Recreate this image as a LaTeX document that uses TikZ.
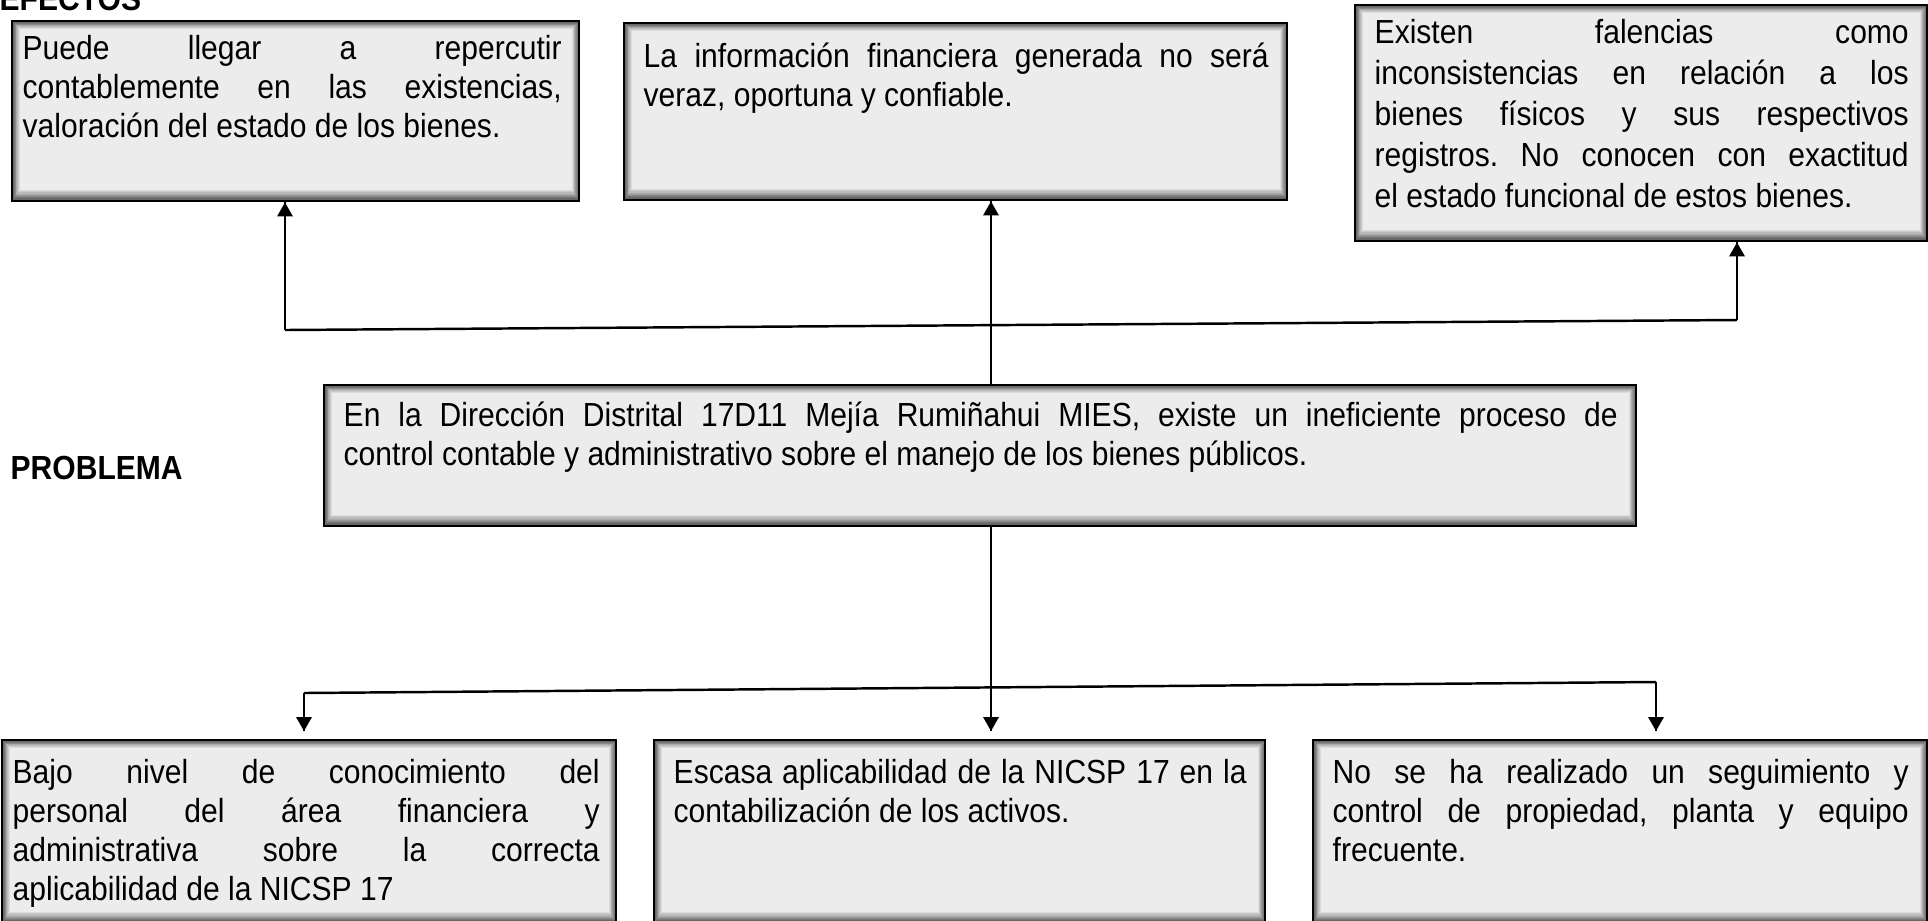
\documentclass[tikz,border=0pt]{standalone}
\usepackage{fontspec}
\setmainfont[FakeStretch=0.9]{Liberation Sans}
\usetikzlibrary{positioning,calc}
\definecolor{fondo}{HTML}{ECECEC}
\tolerance=10000
\hyphenpenalty=10000
\exhyphenpenalty=10000
\frenchspacing

\begin{document}
\begin{tikzpicture}[
  caja/.style={draw=black, line width=0.7pt, fill=fondo, anchor=north west, inner sep=0pt,
    path picture={
      \foreach \k in {1,...,10}{
        \pgfmathtruncatemacro{\tono}{30+7*\k}
        \draw[draw=fondo!\tono!black, line width=0.4pt]
          ([shift={(\k*0.008,\k*0.012)}]path picture bounding box.south west) rectangle
          ([shift={(-\k*0.008,-\k*0.008)}]path picture bounding box.north east);
      }
    }},
  texto/.style={anchor=north west, inner sep=0pt, align=justify,
    font=\fontsize{9.5pt}{11.1pt}\selectfont},
  textoalto/.style={texto, font=\fontsize{9.5pt}{11.7pt}\selectfont},
  titulo/.style={anchor=base west, inner sep=0pt, font=\fontsize{9.5pt}{11.1pt}\selectfont\bfseries},
  raya/.style={draw=black, line width=0.7pt},
  vara/.style={draw=black, line width=0.4pt}
]
\useasboundingbox (0,0) rectangle (19.28,-9.20);
\clip (0,0) rectangle (19.28,-9.20);

% titulos
\node[titulo] (efectos) at (-0.01,-0.10) {EFECTOS};
\node[titulo] (problema) at (0.10,-4.79) {PROBLEMA};

% efectos
\node[caja, minimum width=5.67cm, minimum height=1.80cm] (e1) at (0.11,-0.20) {};
\node[texto, text width=5.39cm, below right=0.07cm and 0.11cm of e1.north west] (te1)
  {\rule{0pt}{0.95em}Puede llegar a repercutir\linebreak contablemente en las existencias,\linebreak valoración del estado de los bienes.};
\node[caja, minimum width=6.63cm, minimum height=1.77cm] (e2) at (6.23,-0.22) {};
\node[texto, text width=6.25cm, below right=0.13cm and 0.20cm of e2.north west] (te2)
  {\rule{0pt}{0.95em}La información financiera generada no será\linebreak veraz, oportuna y confiable.};
\node[caja, minimum width=5.72cm, minimum height=2.36cm] (e3) at (13.54,-0.04) {};
\node[textoalto, text width=5.34cm, below right=0.07cm and 0.20cm of e3.north west] (te3)
  {\rule{0pt}{0.95em}Existen falencias como\linebreak inconsistencias en relación a los\linebreak bienes físicos y sus respectivos\linebreak registros. No conocen con exactitud\linebreak el estado funcional de estos bienes.};

% problema
\node[caja, minimum width=13.12cm, minimum height=1.41cm] (prob) at (3.23,-3.84) {};
\node[texto, text width=12.74cm, below right=0.10cm and 0.20cm of prob.north west] (tp)
  {\rule{0pt}{0.95em}En la Dirección Distrital 17D11 Mejía Rumiñahui MIES, existe un ineficiente proceso de\linebreak control contable y administrativo sobre el manejo de los bienes públicos.};

% causas
\node[caja, minimum width=6.14cm, minimum height=1.83cm] (c1) at (0.01,-7.39) {};
\node[texto, text width=5.87cm, below right=0.12cm and 0.11cm of c1.north west] (tc1)
  {\rule{0pt}{0.95em}Bajo nivel de conocimiento del\linebreak personal del área financiera y\linebreak administrativa sobre la correcta\linebreak aplicabilidad de la NICSP 17};
\node[caja, minimum width=6.11cm, minimum height=1.83cm] (c2) at (6.53,-7.39) {};
\node[texto, text width=5.73cm, below right=0.12cm and 0.20cm of c2.north west] (tc2)
  {\rule{0pt}{0.95em}Escasa aplicabilidad de la NICSP 17 en la\linebreak contabilización de los activos.};
\node[caja, minimum width=6.14cm, minimum height=1.83cm] (c3) at (13.12,-7.39) {};
\node[texto, text width=5.76cm, below right=0.12cm and 0.20cm of c3.north west] (tc3)
  {\rule{0pt}{0.95em}No se ha realizado un seguimiento y\linebreak control de propiedad, planta y equipo\linebreak frecuente.};

% conectores de arriba
\coordinate (hl) at (2.85,-3.30);
\coordinate (hm) at (9.91,-3.25);
\coordinate (hr) at (17.37,-3.20);
\draw[raya] (hl) -- (hr);
\draw[vara] (hl) -- (hl |- e1.south);
\fill (hl |- e1.south) -- ++(-0.08,-0.14) -- ++(0.16,0) -- cycle;
\draw[vara] (hm) -- (hm |- e2.south);
\fill (hm |- e2.south) -- ++(-0.08,-0.14) -- ++(0.16,0) -- cycle;
\draw[vara] (hr) -- (hr |- e3.south);
\fill (hr |- e3.south) -- ++(-0.08,-0.14) -- ++(0.16,0) -- cycle;
\draw[vara] (prob.north -| hm) -- (hm);

% conectores de abajo
\coordinate (bl) at (3.04,-6.93);
\coordinate (bm) at (9.91,-6.87);
\coordinate (br) at (16.56,-6.82);
\draw[vara] (prob.south -| bm) -- (bm);
\draw[raya] (bl) -- (br);
\draw[vara] (bl) -- ($(bl |- c1.north)+(0,0.08)$);
\fill ($(bl |- c1.north)+(0,0.08)$) -- ++(-0.08,0.14) -- ++(0.16,0) -- cycle;
\draw[vara] (bm) -- ($(bm |- c2.north)+(0,0.08)$);
\fill ($(bm |- c2.north)+(0,0.08)$) -- ++(-0.08,0.14) -- ++(0.16,0) -- cycle;
\draw[vara] (br) -- ($(br |- c3.north)+(0,0.08)$);
\fill ($(br |- c3.north)+(0,0.08)$) -- ++(-0.08,0.14) -- ++(0.16,0) -- cycle;
\end{tikzpicture}
\end{document}
